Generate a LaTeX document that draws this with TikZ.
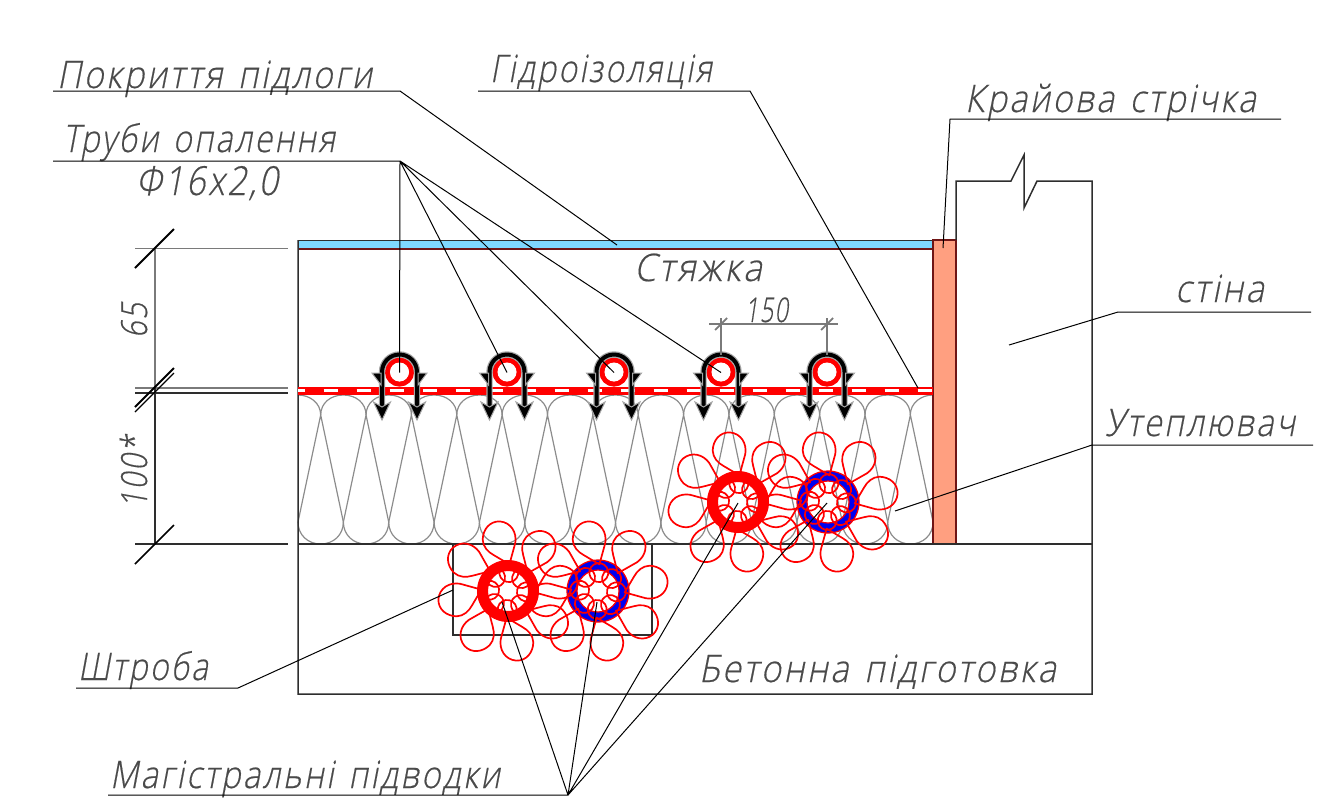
\documentclass[tikz,border=0pt]{standalone}
\usepackage{fontspec}
\usepackage{graphicx}
\newfontfamily\cadfont[FakeSlant=0.22,FakeBold=0.5,LetterSpace=7]{Open Sans Light}
\definecolor{txtgray}{HTML}{4A4A4A}
\definecolor{dimgray}{HTML}{7A7A7A}
\definecolor{wool}{HTML}{8C8C8C}
\definecolor{outl}{HTML}{2E2E2E}
\definecolor{coverblue}{HTML}{7FD8FF}
\definecolor{tapeorange}{HTML}{FF9F80}
\definecolor{darkred}{HTML}{701515}
\definecolor{pipeblue}{HTML}{0000F0}
\newcommand{\cadt}[3]{\resizebox{#1pt}{\height}{\fontsize{#2}{#2}\selectfont\cadfont #3}}
\newcommand{\wgap}{\hspace{0.45em}}
\tikzset{
  cadtext/.style={inner sep=0pt,outer sep=0pt,anchor=base west,text=txtgray},
  leader/.style={draw=black,line width=0.5pt},
  outline/.style={draw=outl,line width=0.75pt},
  dimline/.style={draw=dimgray,line width=0.9pt},
  tick/.style={draw=black,line width=1pt},
  woolline/.style={draw=wool,line width=0.6pt},
  petal/.style={draw=red,line width=0.85pt}
}
\newcommand{\flower}{%
  \foreach \a in {35,80,...,350}{%
    \begin{scope}[rotate=-\a]
      \draw[petal,line join=round] (26,6) -- (46,15.5) .. controls (56,19) and (67,15) .. (70,4) .. controls (72,-6) and (65,-14) .. (55,-16) .. controls (48,-17) and (42,-13) .. (38,-8) -- cycle;
      \draw[petal] (18,4) circle[radius=9.5];
    \end{scope}
  }%
}
\newcommand{\pipepair}{%
  \fill[red,even odd rule] (0,0) circle[radius=31] (0,0) circle[radius=20];
  \fill[pipeblue,even odd rule] (90,0) circle[radius=31] (90,0) circle[radius=21];
  \draw[red,line width=0.6pt] (90,0) circle[radius=31] (90,0) circle[radius=21];
  \begin{scope}\flower\end{scope}
  \begin{scope}[shift={(90,0)}]\flower\end{scope}
}
\begin{document}
\begin{tikzpicture}[x=0.5pt,y=-0.5pt]
\useasboundingbox (0,0) rectangle (1336,810);
% wool
\foreach \k in {0,...,13}{
  \pgfmathsetmacro{\xa}{298+45.36*\k}
  \pgfmathsetmacro{\xb}{\xa+22.68}
  \pgfmathsetmacro{\xc}{\xa+45.36}
  \draw[woolline] (\xb,415) -- (\xa,522) (\xb,415) -- (\xc,522);
  \draw[woolline] (\xa,522) .. controls (\xa,535) and ({\xa+10},544) .. (\xb,544) .. controls ({\xc-10},544) and (\xc,535) .. (\xc,522);
}
\foreach \k in {0,...,12}{
  \pgfmathsetmacro{\xa}{320.68+45.36*\k}
  \pgfmathsetmacro{\xb}{\xa+22.68}
  \pgfmathsetmacro{\xc}{\xa+45.36}
  \draw[woolline] (\xa,415) .. controls (\xa,403) and ({\xa+10},395) .. (\xb,395) .. controls ({\xc-10},395) and (\xc,403) .. (\xc,415);
}
\draw[woolline] (298,395) .. controls (310,395) and (320.68,403) .. (320.68,415);
\draw[woolline] (910.3,415) .. controls (910.3,403) and (921,395) .. (933,395);
% cover
\fill[coverblue] (298,240) rectangle (933,248);
\draw[outl,line width=0.5pt] (298,240) -- (933,240);
\draw[darkred,line width=1pt] (298,248.5) -- (933,248.5);
% tape
\filldraw[fill=tapeorange,draw=darkred,line width=0.75pt] (933,240) rectangle (956,544);
% outlines
\draw[outline] (298,240) -- (298,694) -- (1092,694) -- (1092,181) -- (1037,181) -- (1024,208) -- (1024,155) -- (1011,181) -- (956,181) -- (956,240);
\draw[outline] (298,544) -- (1092,544);
\draw[outline] (453,544) -- (453,635) -- (652,635) -- (652,544);
% membrane
\fill[red] (298,387) rectangle (933,395);
\draw[white,line width=1.3pt,dash pattern=on 7.25pt off 9.25pt,dash phase=3.75pt] (298,390.5) -- (933,390.5);
% heating pipes and clips
\foreach \cx in {399.5,507,614,721,827}{
  \draw[red,line width=2.6pt] (\cx,372) circle[radius=12];
  \fill[white] (\cx,372) circle[radius=9.5];
  \foreach \col/\w in {gray!70/3.2pt,black/2pt}{
    \draw[\col,line width=\w] ({\cx-17.5},408) -- ({\cx-17.5},372) arc[start angle=180,end angle=0,x radius=17.5,y radius=-17.5] -- ({\cx+17.5},408);
  }
  \foreach \s in {-1,1}{
    \pgfmathsetmacro{\lx}{\cx+\s*17.5}
    \filldraw[fill=black,draw=gray!70,line width=0.5pt] (\lx,420) -- ({\lx-8.5},402) -- (\lx,407) -- ({\lx+8.5},402) -- cycle;
    \filldraw[fill=black,draw=gray!70,line width=0.5pt] ({\lx+\s*1},373) -- ({\lx+\s*10},373) -- ({\lx+\s*1},385) -- cycle;
  }
}
% main pipes
\begin{scope}[shift={(738,502)}]\pipepair\end{scope}
\begin{scope}[shift={(508,591)}]\pipepair\end{scope}
% dimensions left
\draw[dimline] (135,248.5) -- (288,248.5) (135,388) -- (288,388);
\draw[outl,line width=0.6pt] (135,393) -- (288,393) (135,544) -- (288,544);
\draw[dimline] (155,248.5) -- (155,388);
\draw[outl,line width=0.6pt] (155,388) -- (155,544);
\draw[tick] (135,268) -- (174,229);
\draw[tick] (135,407) -- (174,368);
\draw[black,line width=0.6pt] (135,412) -- (174,373);
\draw[black,line width=0.8pt] (135,564) -- (174,525);
% dimension 150
\draw[dimline] (709,324) -- (838,324) (721,318) -- (721,355) (827,318) -- (827,355);
\draw[dimline] (715,330) -- (727,318) (821,330) -- (833,318);
% labels
\node[cadtext] (t1) at (57,88) {\cadt{157.5}{19}{Покриття\wgap підлоги}};
\node[cadtext] (t2) at (63,152) {\cadt{136}{19}{Труби\wgap опалення}};
\node[cadtext] (t3) at (136,195) {\cadt{71}{20}{Ф16х2,0}};
\node[cadtext] (t4) at (490,82) {\cadt{111}{19}{Гідроізоляція}};
\node[cadtext] (t5) at (965,112) {\cadt{145.5}{19}{Крайова\wgap стрічка}};
\node[cadtext] (t6) at (634,281) {\cadt{64}{19}{Стяжка}};
\node[cadtext] (t7) at (1175,302) {\cadt{44.5}{19}{стіна}};
\node[cadtext] (t8) at (1105,436) {\cadt{95}{19}{Утеплювач}};
\node[cadtext] (t9) at (78,680) {\cadt{65}{19}{Штроба}};
\node[cadtext] (t10) at (699,682) {\cadt{178.5}{19}{Бетонна\wgap підготовка}};
\node[cadtext] (t11) at (110,788) {\cadt{195}{19}{Магістральні\wgap підводки}};
\node[cadtext] (t12) at (745,322) {\cadt{21.5}{17}{150}};
\node[cadtext,rotate=90] (t13) at (147,338) {\cadt{17.5}{18}{65}};
\node[cadtext,rotate=90] (t14) at (147,508) {\cadt{36}{18}{100*}};
% leader vertices and ends
\coordinate (a0) at (53,91);   \coordinate (a1) at (400,91);   \coordinate (a2) at (617,245);
\coordinate (b0) at (53,161);  \coordinate (b1) at (400,161);
\coordinate (p1) at (399.5,372.5); \coordinate (p2) at (507,372.5); \coordinate (p3) at (614,372.5); \coordinate (p4) at (721,372.5);
\coordinate (c0) at (478,91);  \coordinate (c1) at (750,91);   \coordinate (c2) at (918,388);
\coordinate (d0) at (1281,119);\coordinate (d1) at (950,119);  \coordinate (d2) at (943,248);
\coordinate (e0) at (1311,312);\coordinate (e1) at (1118,312); \coordinate (e2) at (1009,345);
\coordinate (f0) at (1313,445);\coordinate (f1) at (1092,445); \coordinate (f2) at (895,511);
\coordinate (g0) at (76,688);  \coordinate (g1) at (238,688);  \coordinate (g2) at (453,590);
\coordinate (h0) at (108,795); \coordinate (h1) at (568,795);
\coordinate (m1) at (502,602); \coordinate (m2) at (597,602); \coordinate (m3) at (738,503); \coordinate (m4) at (827,503);
\draw[leader] (a0) -- (a1) -- (a2);
\draw[leader] (b0) -- (b1) -- (p1) (b1) -- (p2) (b1) -- (p3) (b1) -- (p4);
\draw[leader] (c0) -- (c1) -- (c2);
\draw[leader] (d0) -- (d1) -- (d2);
\draw[leader] (e0) -- (e1) -- (e2);
\draw[leader] (f0) -- (f1) -- (f2);
\draw[leader] (g0) -- (g1) -- (g2);
\draw[leader] (h0) -- (h1) -- (m1) (h1) -- (m2) (h1) -- (m3) (h1) -- (m4);
\end{tikzpicture}
\end{document}
